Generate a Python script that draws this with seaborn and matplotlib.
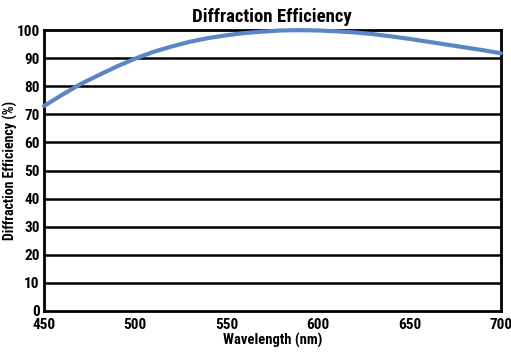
import matplotlib
matplotlib.use("Agg")
import matplotlib.pyplot as plt
import seaborn as sns
import pandas as pd

# --- data ---
wavelength = [450, 460, 470, 480, 490, 500, 510, 520, 530, 540, 550, 560, 570,
              580, 590, 600, 610, 620, 630, 640, 650, 660, 670, 680, 690, 700]
efficiency = [73.0, 77.0, 80.8, 84.0, 87.1, 89.9, 92.3, 94.2, 95.9, 97.2, 98.2, 99.0, 99.5,
              99.9, 100.0, 99.9, 99.6, 99.2, 98.6, 97.8, 96.9, 95.9, 94.9, 93.9, 92.9, 91.8]
x_ticks = [450, 500, 550, 600, 650, 700]
y_ticks = list(range(0, 101, 10))

LINE_COLOR = '#5b86c5'

sns.set_style('white')
plt.rcParams['font.family'] = ['Roboto Condensed', 'DejaVu Sans']
plt.rcParams['font.weight'] = 'bold'

df = pd.DataFrame({'Wavelength': wavelength, 'Efficiency': efficiency})

fig = plt.figure(figsize=(5.11, 3.55), dpi=100)
ax = fig.add_axes([0.086, 0.124, 0.894, 0.791])

# horizontal rules every 10 %
for y in y_ticks[1:-1]:
    ax.axhline(y, color='black', lw=1.8, zorder=1)

sns.lineplot(data=df, x='Wavelength', y='Efficiency', ax=ax, color=LINE_COLOR,
             lw=3, zorder=3, clip_on=False)

ax.set_xlim(450, 700)
ax.set_ylim(0, 100)
ax.set_xticks(x_ticks)
ax.set_yticks(y_ticks)
ax.tick_params(length=0, labelsize=11, colors='black')
ax.tick_params(axis='x', pad=5)
ax.tick_params(axis='y', pad=3)
for spine in ax.spines.values():
    spine.set_linewidth(2)
    spine.set_color('black')

ax.set_xlabel('Wavelength (nm)', fontsize=10.5, fontweight='bold', labelpad=1, color='black')
ax.set_ylabel('Diffraction Efficiency (%)', fontsize=10, fontweight='bold', color='black')
ax.yaxis.set_label_coords(-0.057, 0.5)
ax.set_title('Diffraction Efficiency', fontsize=13.5, fontweight='bold', pad=6, color='black')

fig.savefig('out.png', dpi=100)
